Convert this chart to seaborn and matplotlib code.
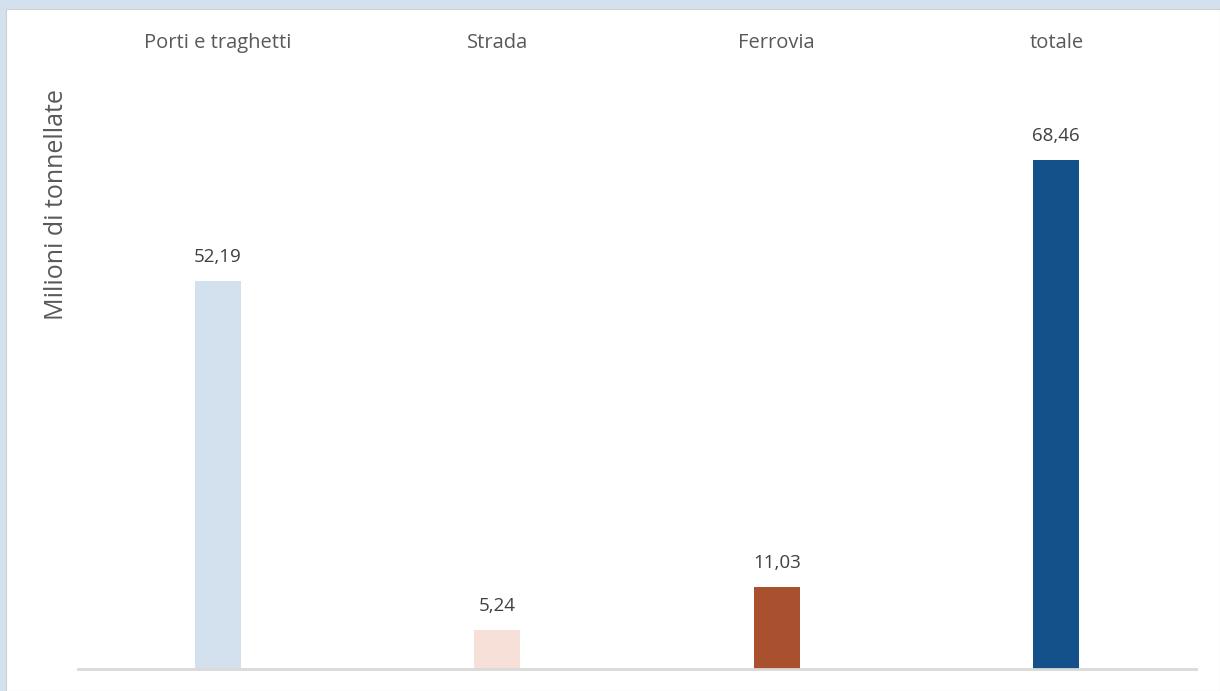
import matplotlib
matplotlib.use("Agg")
import matplotlib.pyplot as plt
import matplotlib.patches as mpatches
import seaborn as sns
import pandas as pd

# dati
categorie = ["Porti e traghetti", "Strada", "Ferrovia", "totale"]
valori = [52.19, 5.24, 11.03, 68.46]
colori = ["#d3e1ee", "#f6e0d8", "#a9502f", "#14508a"]

sns.set_theme(style="white")
plt.rcParams['font.family'] = ['Open Sans', 'DejaVu Sans']

df = pd.DataFrame({"categoria": categorie, "valore": valori})

fig = plt.figure(figsize=(12.2, 6.91), dpi=100)
fig.patch.set_facecolor("#d3e1ee")

# riquadro bianco interno
fig.patches.append(mpatches.Rectangle((6 / 1220, 0), 1 - 6 / 1220, 1 - 9 / 691,
                                      transform=fig.transFigure, facecolor="white",
                                      edgecolor="#d0d0d0", linewidth=0.8, zorder=-5))

ax = fig.add_axes([78 / 1220, 22 / 691, 1118 / 1220, 595 / 691])
ax.set_facecolor("none")
ax.set_zorder(2)

sns.barplot(data=df, x="categoria", y="valore", hue="categoria", palette=colori,
            width=0.165, legend=False, ax=ax, saturation=1, linewidth=0)

ax.set_xlim(-0.5, 3.5)
ax.set_ylim(0, 80)

for i, v in enumerate(valori):
    ax.text(i, v + 3.2, f"{v:.2f}".replace(".", ","), ha="center", va="center",
            fontsize=13.5, color="#404040")

ax.xaxis.tick_top()
ax.tick_params(axis="x", length=0, pad=15, labelsize=14.5, labelcolor="#595959")
ax.set_xlabel("")
ax.set_ylabel("")
ax.set_yticks([])
for s in ["top", "left", "right"]:
    ax.spines[s].set_visible(False)
ax.spines["bottom"].set_color("#d9d9d9")
ax.spines["bottom"].set_linewidth(2)

fig.text(57 / 1220, 1 - 205 / 691, "Milioni di tonnellate", rotation=90,
         ha="center", va="center", fontsize=18, color="#595959")

fig.savefig("out.png", dpi=100, facecolor=fig.get_facecolor())
